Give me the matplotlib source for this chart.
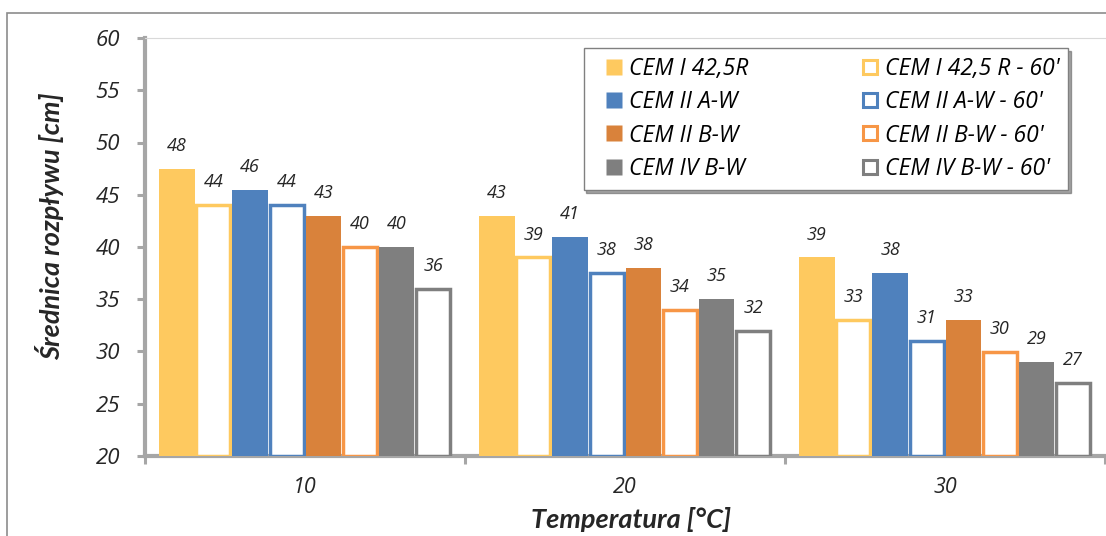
import matplotlib
matplotlib.use("Agg")
import matplotlib.pyplot as plt
from matplotlib.lines import Line2D
from matplotlib.patches import Rectangle
import numpy as np

# Temperatures (categories on the x axis)
temperatures = ["10", "20", "30"]

# Series names: fresh mix and after 60 minutes
series_names = [
    "CEM I 42,5R", "CEM II A-W", "CEM II B-W", "CEM IV B-W",
    "CEM I 42,5 R - 60'", "CEM II A-W - 60'", "CEM II B-W - 60'", "CEM IV B-W - 60'",
]

# Mean flow diameter [cm]
cem1 = [47.5, 43.0, 39.0]
cem1_60 = [44.0, 39.0, 33.0]
cem2a = [45.5, 41.0, 37.5]
cem2a_60 = [44.0, 37.5, 31.0]
cem2b = [43.0, 38.0, 33.0]
cem2b_60 = [40.0, 34.0, 30.0]
cem4b = [40.0, 35.0, 29.0]
cem4b_60 = [36.0, 32.0, 27.0]

yticks = [20, 25, 30, 35, 40, 45, 50, 55, 60]

# Drawing order within each temperature group
order = [
    (cem1, "#FEC95F", False, 0), (cem1_60, "#FEC95F", True, 4),
    (cem2a, "#4F81BD", False, 1), (cem2a_60, "#4F81BD", True, 5),
    (cem2b, "#D9823B", False, 2), (cem2b_60, "#F79646", True, 6),
    (cem4b, "#7F7F7F", False, 3), (cem4b_60, "#7F7F7F", True, 7),
]

NUM_FONT = "Open Sans"
TITLE_FONT = "Lato"
TEXT_COLOR = "#262626"
AXIS_GRAY = "#A6A6A6"

fig = plt.figure(figsize=(11.06, 5.36), dpi=100)
ax = fig.add_axes([145 / 1106, 1 - 456 / 536, 960 / 1106, 418 / 536])

x = np.arange(len(temperatures))
n = len(order)
width = 0.1145
offsets = (np.arange(n) - (n - 1) / 2) * width

handles = [None] * n
for i, (vals, color, hollow, leg_idx) in enumerate(order):
    base = 20
    heights = np.array(vals) - base
    if hollow:
        bars = ax.bar(x + offsets[i], heights, width * 0.93, bottom=base,
                      facecolor="white", edgecolor=color, linewidth=2.5,
                      zorder=3)
        handles[leg_idx] = Line2D([], [], ls="none", marker="s", markersize=9.6,
                                  markerfacecolor="white", markeredgecolor=color,
                                  markeredgewidth=2.2, label=series_names[leg_idx])
    else:
        bars = ax.bar(x + offsets[i], heights, width * 0.97, bottom=base,
                      facecolor=color, edgecolor="none", zorder=3)
        handles[leg_idx] = Line2D([], [], ls="none", marker="s", markersize=11.6,
                                  markerfacecolor=color, markeredgecolor="none",
                                  label=series_names[leg_idx])
    for rect, v in zip(bars, vals):
        ax.annotate(f"{v:.0f}", (rect.get_x() + rect.get_width() / 2, v),
                    xytext=(0, 10), textcoords="offset points",
                    ha="center", va="bottom", fontsize=13, style="italic",
                    family=NUM_FONT, color=TEXT_COLOR)

ax.set_ylim(20, 60)
ax.set_xlim(-0.5, 2.5)
ax.set_yticks(yticks)
ax.set_yticklabels([str(t) for t in yticks], fontsize=16, style="italic",
                   family=NUM_FONT, color=TEXT_COLOR)
ax.set_xticks(x)
ax.set_xticklabels(temperatures, fontsize=15.5, style="italic",
                   family=NUM_FONT, color=TEXT_COLOR)
ax.tick_params(axis="x", which="major", length=0, pad=15)
ax.set_xticks([-0.5, 0.5, 1.5, 2.5], minor=True)
ax.tick_params(axis="x", which="minor", length=6, width=2.2, color=AXIS_GRAY,
               direction="out")
ax.tick_params(axis="y", length=6, width=2.2, color=AXIS_GRAY, direction="out",
               pad=12)

for side in ("left", "bottom"):
    ax.spines[side].set_color(AXIS_GRAY)
    ax.spines[side].set_linewidth(3)
ax.spines["top"].set_color("#D9D9D9")
ax.spines["top"].set_linewidth(0.8)
ax.spines["right"].set_visible(False)

leg = ax.legend(handles=handles, ncol=2, loc="upper left",
                bbox_to_anchor=(0.457, 0.976), frameon=True, fancybox=False,
                shadow=True,
                prop={"family": NUM_FONT, "style": "italic", "size": 16.5},
                handlelength=1.83, handleheight=0.72, handletextpad=-0.27,
                columnspacing=4.4, labelspacing=0.4, borderpad=0.4,
                borderaxespad=0)
leg.get_frame().set_edgecolor("#808080")
leg.get_frame().set_linewidth(1.0)

fig.text(50 / 1106, 1 - 226 / 536, "Średnica rozpływu [cm]", rotation=90,
         ha="center", va="center", fontsize=19.5, weight="bold", style="italic",
         family=TITLE_FONT, color=TEXT_COLOR)
fig.text(631 / 1106, 1 - 519 / 536, "Temperatura [°C]", ha="center", va="center",
         fontsize=19.5, weight="bold", style="italic", family=TITLE_FONT,
         color=TEXT_COLOR)

# Chart area frame
fig.patches.append(Rectangle((7 / 1106, -0.1), 1.2, 1 - 13 / 536 + 0.1,
                             transform=fig.transFigure, fill=False,
                             edgecolor="#8C8C8C", linewidth=1.2))

fig.savefig("out.png", dpi=100)
